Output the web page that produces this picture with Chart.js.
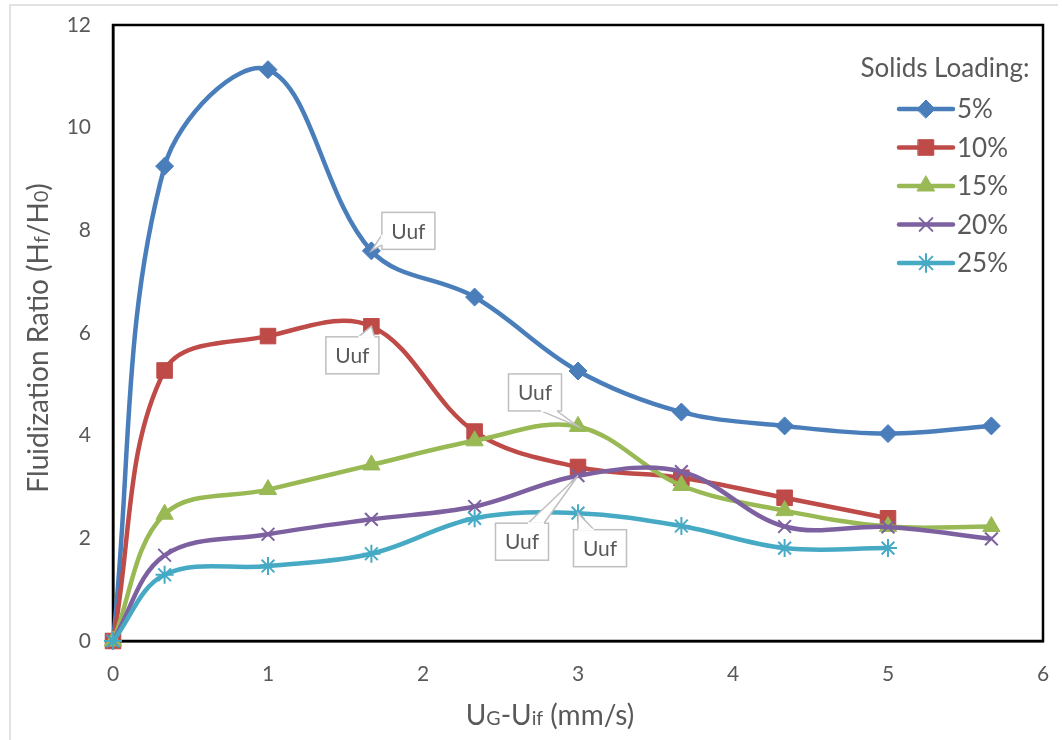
<!DOCTYPE html>
<html>
<head>
<meta charset="utf-8">
<script src="https://cdn.jsdelivr.net/npm/chart.js@4.4.1/dist/chart.umd.min.js"></script>
<style>
html, body { margin: 0; padding: 0; background: #fff; }
#wrap { width: 1062px; height: 740px; }
</style>
</head>
<body>
<div id="wrap"><canvas id="myChart" width="1062" height="740"></canvas></div>
<script>
/* 資料 */
var xValues = [0, 0.333, 1, 1.667, 2.333, 3, 3.667, 4.333, 5, 5.667];
var load5 = [0, 9.25, 11.13, 7.6, 6.7, 5.26, 4.46, 4.19, 4.04, 4.19];
var load10 = [0, 5.27, 5.94, 6.13, 4.08, 3.39, 3.18, 2.79, 2.39];
var load15 = [0, 2.47, 2.95, 3.43, 3.9, 4.18, 3.03, 2.54, 2.23, 2.23];
var load20 = [0, 1.67, 2.08, 2.37, 2.62, 3.22, 3.3, 2.23, 2.22, 1.99];
var load25 = [0, 1.29, 1.46, 1.7, 2.39, 2.49, 2.24, 1.81, 1.81];
var seriesNames = ['5%', '10%', '15%', '20%', '25%'];
var legendTitle = 'Solids Loading:';
var xTicks = [0, 1, 2, 3, 4, 5, 6];
var yTicks = [0, 2, 4, 6, 8, 10, 12];
var calloutText = 'Uuf';
// [series, point]
var calloutAt = [[0, 3], [1, 3], [2, 5], [3, 5], [4, 5]];

/* 樣式 */
var FONT = 'Lato, "Open Sans", sans-serif';
var TEXT_COLOR = '#595959';
var colors = ['#4a7ebb', '#be4b48', '#98b954', '#7d60a0', '#46aac5'];
var styles = ['rectRot', 'rect', 'triangle', 'crossRot', 'star'];
var radii = [9, 11, 10, 9, 9];
// 標註框相對資料點的位移
var calloutOffset = [[37, -20], [-19, 29], [-43, -34], [-56, 66], [22, 35]];

function toPoints(ys) {
	var pts = [];
	for (var i = 0; i < ys.length; i++) {
		pts.push({ x: xValues[i], y: ys[i] });
	}
	return pts;
}

var allSeries = [load5, load10, load15, load20, load25];
var datasets = [];
for (var i = 0; i < allSeries.length; i++) {
	datasets.push({
		label: seriesNames[i],
		data: toPoints(allSeries[i]),
		borderColor: colors[i],
		backgroundColor: colors[i],
		borderWidth: 4.5,
		tension: 0.36,
		clip: false,
		pointStyle: styles[i],
		pointRadius: radii[i],
		pointBorderWidth: (styles[i] == 'crossRot' || styles[i] == 'star') ? 2 : 1,
		pointBorderColor: colors[i],
		pointBackgroundColor: colors[i],
		order: 5 - i
	});
}

// 畫有下標的文字
function drawRich(ctx, parts, size, x, y, rotate) {
	ctx.save();
	ctx.translate(x, y);
	if (rotate) ctx.rotate(-Math.PI / 2);
	var total = 0;
	for (var i = 0; i < parts.length; i++) {
		ctx.font = (size * parts[i][1]) + 'px ' + FONT;
		total += ctx.measureText(parts[i][0]).width;
	}
	var cx = -total / 2;
	ctx.fillStyle = TEXT_COLOR;
	ctx.textBaseline = 'alphabetic';
	ctx.textAlign = 'left';
	for (var j = 0; j < parts.length; j++) {
		ctx.font = (size * parts[j][1]) + 'px ' + FONT;
		ctx.fillText(parts[j][0], cx, size * 0.35);
		cx += ctx.measureText(parts[j][0]).width;
	}
	ctx.restore();
}

var extras = {
	id: 'extras',
	beforeDatasetsDraw: function(chart) {
		var ctx = chart.ctx;
		var a = chart.chartArea;
		// 外框
		ctx.save();
		ctx.strokeStyle = '#d9d9d9';
		ctx.lineWidth = 1.5;
		ctx.beginPath();
		ctx.moveTo(10, 740);
		ctx.lineTo(10, 5);
		ctx.lineTo(1058, 5);
		ctx.stroke();
		// 繪圖區邊框
		ctx.strokeStyle = '#000';
		ctx.lineWidth = 2.5;
		ctx.strokeRect(a.left, a.top, a.right - a.left, a.bottom - a.top);
		ctx.restore();
	},
	afterDatasetsDraw: function(chart) {
		var ctx = chart.ctx;

		// 標註 Uuf
		for (var k = 0; k < calloutAt.length; k++) {
			var el = chart.getDatasetMeta(calloutAt[k][0]).data[calloutAt[k][1]];
			var px = el.x, py = el.y;
			var bw = 53, bh = 37;
			var cx = px + calloutOffset[k][0], cy = py + calloutOffset[k][1];
			var l = cx - bw / 2, t = cy - bh / 2;
			// 指標的底邊
			var dx = px - cx, dy = py - cy;
			var b1, b2;
			if (Math.abs(dx) / bw > Math.abs(dy) / bh) {
				var ex = dx > 0 ? l + bw : l;
				b1 = [ex, cy + (dy > 0 ? 4 : -14)];
				b2 = [ex, cy + (dy > 0 ? 14 : -4)];
			} else {
				var ey = dy > 0 ? t + bh : t;
				b1 = [cx + (dx > 0 ? 6 : -22), ey];
				b2 = [cx + (dx > 0 ? 22 : -6), ey];
			}
			ctx.save();
			ctx.fillStyle = '#fff';
			ctx.strokeStyle = '#bfbfbf';
			ctx.lineWidth = 1.5;
			ctx.beginPath();
			ctx.moveTo(b1[0], b1[1]);
			ctx.lineTo(px, py);
			ctx.lineTo(b2[0], b2[1]);
			ctx.closePath();
			ctx.fill();
			ctx.stroke();
			ctx.fillRect(l, t, bw, bh);
			ctx.strokeRect(l, t, bw, bh);
			ctx.beginPath();
			ctx.moveTo(b1[0], b1[1]);
			ctx.lineTo(b2[0], b2[1]);
			ctx.strokeStyle = '#fff';
			ctx.lineWidth = 2;
			ctx.stroke();
			ctx.fillStyle = TEXT_COLOR;
			ctx.font = '21px ' + FONT;
			ctx.textAlign = 'center';
			ctx.textBaseline = 'middle';
			ctx.fillText(calloutText, cx, cy + 1);
			ctx.restore();
		}

		// 圖例
		ctx.save();
		ctx.fillStyle = TEXT_COLOR;
		ctx.font = '26px ' + FONT;
		ctx.textAlign = 'center';
		ctx.textBaseline = 'middle';
		ctx.fillText(legendTitle, 945, 69);
		ctx.textAlign = 'left';
		for (var s = 0; s < seriesNames.length; s++) {
			var ly = 109 + s * 38.5;
			ctx.strokeStyle = colors[s];
			ctx.lineWidth = 4.5;
			ctx.lineCap = 'round';
			ctx.beginPath();
			ctx.moveTo(899, ly);
			ctx.lineTo(953, ly);
			ctx.stroke();
			ctx.fillStyle = colors[s];
			ctx.lineWidth = (styles[s] == 'crossRot' || styles[s] == 'star') ? 2 : 1;
			Chart.helpers.drawPoint(ctx, { pointStyle: styles[s], radius: radii[s], borderWidth: ctx.lineWidth, rotation: 0 }, 926, ly);
			ctx.fillStyle = TEXT_COLOR;
			ctx.fillText(seriesNames[s], 957, ly + 1);
		}
		ctx.restore();

		// 座標軸標題
		drawRich(ctx, [['F', 1], ['luidization Ratio (H', 1], ['f', 0.7], ['/H', 1], ['0', 0.7], [')', 1]], 28, 38, 338, true);
		drawRich(ctx, [['U', 1], ['G', 0.7], ['-U', 1], ['if', 0.7], [' (mm/s)', 1]], 28, 550, 715, false);
	}
};

var ctx = document.getElementById('myChart');
var myChart = new Chart(ctx, {
	type: 'line',
	data: { datasets: datasets },
	plugins: [extras],
	options: {
		responsive: false,
		animation: false,
		devicePixelRatio: 1,
		layout: { autoPadding: false, padding: { left: 0, top: 25, right: 19, bottom: 0 } },
		plugins: { legend: { display: false }, tooltip: { enabled: false } },
		scales: {
			x: {
				type: 'linear', min: 0, max: 6,
				afterBuildTicks: function(scale) { scale.ticks = xTicks.map(function(v) { return { value: v }; }); },
				afterFit: function(scale) { scale.height = 99; },
				ticks: { color: TEXT_COLOR, font: { size: 21, family: FONT }, padding: 0, maxRotation: 0 },
				grid: { display: true, drawOnChartArea: false, drawTicks: true, tickLength: 21, tickColor: 'rgba(0,0,0,0)' },
				border: { color: '#000', width: 2.5 }
			},
			y: {
				type: 'linear', min: 0, max: 12,
				afterBuildTicks: function(scale) { scale.ticks = yTicks.map(function(v) { return { value: v }; }); },
				afterFit: function(scale) { scale.width = 113; },
				ticks: { color: TEXT_COLOR, font: { size: 21, family: FONT }, padding: 0 },
				grid: { display: true, drawOnChartArea: false, drawTicks: true, tickLength: 22, tickColor: 'rgba(0,0,0,0)' },
				border: { color: '#000', width: 2.5 }
			}
		}
	}
});
</script>
</body>
</html>
